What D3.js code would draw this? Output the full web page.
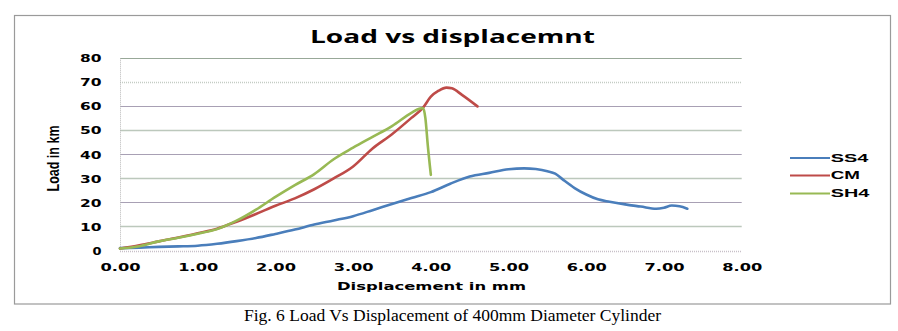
<!DOCTYPE html>
<html><head><meta charset="utf-8">
<script src="https://cdn.jsdelivr.net/npm/d3@7"></script>
<style>
html,body{margin:0;padding:0;background:#fff;}
svg{display:block;}
</style></head>
<body>
<script>
const chartTitle = "Load vs displacemnt";
const xTitle = "Displacement in mm";
const yTitle = "Load in km";
const caption = "Fig. 6 Load Vs Displacement of 400mm Diameter Cylinder";
const xTicks = [0,1,2,3,4,5,6,7,8];
const yTicks = [0,10,20,30,40,50,60,70,80];
const seriesNames = ["SS4","CM","SH4"];
const seriesColors = ["#4a7ebb","#be4b48","#98b954"];

const ss4X = [0,0.25,0.5,0.75,1.0,1.25,1.5,1.75,2.0,2.25,2.5,2.75,3.0,3.25,3.5,3.75,4.0,4.25,4.5,4.75,5.0,5.2,5.35,5.5,5.6,5.7,5.85,6.0,6.15,6.3,6.5,6.7,6.9,7.0,7.1,7.2,7.3];
const ss4Y = [1.0,1.2,1.5,1.7,2.0,2.8,3.9,5.2,6.9,8.7,10.8,12.5,14.3,16.8,19.4,21.9,24.3,27.8,30.8,32.3,33.8,34.2,33.9,33.0,32.0,29.5,26.0,23.3,21.3,20.3,19.2,18.3,17.4,17.8,18.7,18.4,17.4];

const cmX = [0,0.25,0.5,0.75,1.0,1.25,1.5,1.75,2.0,2.25,2.5,2.75,3.0,3.25,3.5,3.75,3.9,4.0,4.1,4.2,4.27,4.4,4.6];
const cmY = [0.8,2.2,3.8,5.4,7.2,9.1,12.0,15.2,18.6,21.7,25.5,30.0,35.0,42.5,48.4,55.2,59.5,64.0,66.5,67.8,67.5,64.8,60.0];

const sh4X = [0,0.25,0.5,0.75,1.0,1.25,1.5,1.75,2.0,2.25,2.5,2.75,3.0,3.25,3.5,3.75,3.85,3.9,3.93,3.96,4.0];
const sh4Y = [0.8,1.8,3.8,5.3,7.0,8.9,12.4,17.0,22.3,27.2,31.8,38.0,42.8,47.3,51.8,57.3,59.0,59.3,55.0,44.0,31.5];

const W = 898, H = 331;
const svg = d3.select("body").append("svg").attr("width", W).attr("height", H);

// outer chart border
svg.append("rect").attr("x", 14.5).attr("y", 15.5).attr("width", 876).attr("height", 288.5)
  .attr("fill", "#fff").attr("stroke", "#9a9a9a").attr("stroke-width", 1.2);

const x = d3.scaleLinear().domain([0, 8]).range([120, 741.7]);
const y = d3.scaleLinear().domain([0, 80]).range([250.5, 58.3]);

// gridlines
const grid = svg.append("g");
yTicks.forEach(v => {
  let stroke = "#bcc8bc", dash = null, sw = 1.3;
  if (v === 80) { stroke = "#98a898"; sw = 1.2; }
  else if (v === 0) { stroke = "#c8c0c8"; dash = "1,1"; sw = 1.5; }
  else if (v === 70) { stroke = "#c4ccc4"; dash = "1,1"; sw = 1.5; }
  else if (v % 20 === 0) { stroke = "#a8a0b4"; sw = 1.2; }
  grid.append("line").attr("x1", x(0)).attr("x2", x(8))
    .attr("y1", Math.round(y(v)) + 0.5).attr("y2", Math.round(y(v)) + 0.5)
    .attr("stroke", stroke).attr("stroke-width", sw).attr("stroke-dasharray", dash);
});
// left border of plot area
svg.append("line").attr("x1", x(0) + 0.5).attr("x2", x(0) + 0.5).attr("y1", y(80)).attr("y2", y(0))
  .attr("stroke", "#b8b8b8").attr("stroke-width", 1).attr("stroke-dasharray", "1,1");

// axes (labels only)
const fmt = d3.format(".2f");
const xAxis = svg.append("g").attr("transform", `translate(0,${y(0)})`)
  .call(d3.axisBottom(x).tickValues(xTicks).tickFormat(fmt).tickSize(0).tickPadding(0));
xAxis.select(".domain").remove();
xAxis.selectAll("text")
  .attr("y", 20.5).attr("dy", null)
  .attr("font-family", "DejaVu Sans").attr("font-weight", "bold").attr("font-size", 10)
  .attr("fill", "#000")
  .attr("textLength", 40).attr("lengthAdjust", "spacingAndGlyphs");

const yAxis = svg.append("g").attr("transform", `translate(${x(0)},0)`)
  .call(d3.axisLeft(y).tickValues(yTicks).tickSize(0).tickPadding(0));
yAxis.select(".domain").remove();
yAxis.selectAll("text")
  .attr("x", -18.5).attr("dy", "0.36em")
  .attr("font-family", "DejaVu Sans").attr("font-weight", "bold").attr("font-size", 10)
  .attr("fill", "#000")
  .attr("textLength", d => String(d).length === 1 ? 9 : 21.5)
  .attr("lengthAdjust", "spacingAndGlyphs");

// series
const series = [
  { name: seriesNames[0], xs: ss4X, ys: ss4Y, color: seriesColors[0] },
  { name: seriesNames[1], xs: cmX, ys: cmY, color: seriesColors[1] },
  { name: seriesNames[2], xs: sh4X, ys: sh4Y, color: seriesColors[2] }
];
const line = d3.line().x(d => x(d[0])).y(d => y(d[1])).curve(d3.curveMonotoneX);
series.forEach(s => {
  const pts = s.xs.map((v, i) => [v, s.ys[i]]);
  svg.append("path").datum(pts).attr("d", line)
    .attr("fill", "none").attr("stroke", s.color).attr("stroke-width", 2.6)
    .attr("stroke-linejoin", "round").attr("stroke-linecap", "round");
});

// title
svg.append("text").attr("x", 310).attr("y", 42.7)
  .attr("font-family", "Open Sans").attr("font-weight", "bold").attr("font-size", 18)
  .attr("textLength", 285).attr("lengthAdjust", "spacingAndGlyphs")
  .attr("fill", "#000").text(chartTitle);

// x title
svg.append("text").attr("x", 337).attr("y", 290)
  .attr("font-family", "DejaVu Sans").attr("font-weight", "bold").attr("font-size", 10)
  .attr("textLength", 189).attr("lengthAdjust", "spacingAndGlyphs")
  .attr("fill", "#000").text(xTitle);

// y title
svg.append("text").attr("transform", "translate(58.5,191.5) rotate(-90)")
  .attr("font-family", "Liberation Sans").attr("font-weight", "bold").attr("font-size", 16)
  .attr("textLength", 66).attr("lengthAdjust", "spacingAndGlyphs")
  .attr("fill", "#000").text(yTitle);

// legend
const legY = [158, 175.5, 193.5];
const legW = [37.6, 29.3, 38.6];
series.forEach((s, i) => {
  svg.append("line").attr("x1", 790).attr("x2", 830).attr("y1", legY[i]).attr("y2", legY[i])
    .attr("stroke", s.color).attr("stroke-width", 2.2);
  svg.append("text").attr("x", 830.7).attr("y", legY[i] + 3.6)
    .attr("font-family", "Liberation Sans").attr("font-weight", "bold").attr("font-size", 10)
    .attr("textLength", legW[i]).attr("lengthAdjust", "spacingAndGlyphs")
    .attr("fill", "#000").text(s.name);
});

// caption
svg.append("text").attr("x", 244).attr("y", 321)
  .attr("font-family", "Liberation Serif").attr("font-size", 16)
  .attr("textLength", 417).attr("lengthAdjust", "spacingAndGlyphs")
  .attr("fill", "#000").text(caption);
</script>
</body></html>
